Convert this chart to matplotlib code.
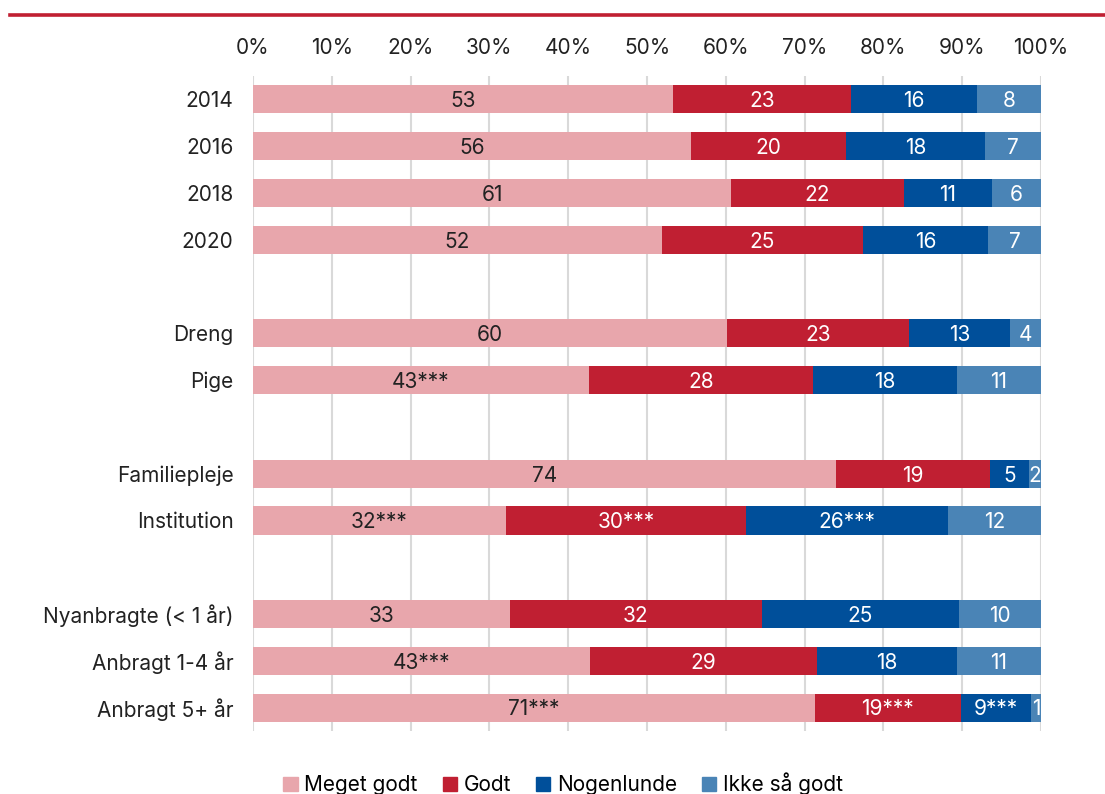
import numpy as np
import matplotlib.pyplot as plt
from matplotlib.lines import Line2D

plt.rcParams['font.family'] = ['Inter', 'DejaVu Sans']

categories = ['2014', '2016', '2018', '2020', '',
              'Dreng', 'Pige', '',
              'Familiepleje', 'Institution', '',
              'Nyanbragte (< 1 år)', 'Anbragt 1-4 år', 'Anbragt 5+ år']

series = ['Meget godt', 'Godt', 'Nogenlunde', 'Ikke så godt']
colors = ['#E8A6AC', '#C01F32', '#004F9A', '#4A84B6']
text_colors = ['#222222', 'white', 'white', 'white']

# shares in percent (None = empty spacer row)
meget_godt = [53.3, 55.6, 60.7, 51.9, None, 60.2, 42.6, None, 74.0, 32.1, None, 32.6, 42.8, 71.3]
godt = [22.6, 19.7, 21.9, 25.5, None, 23.0, 28.5, None, 19.5, 30.5, None, 32.0, 28.8, 18.5]
nogenlunde = [16.0, 17.6, 11.2, 15.9, None, 12.9, 18.2, None, 5.0, 25.6, None, 25.0, 17.7, 8.9]
ikke_saa_godt = [8.1, 7.1, 6.2, 6.7, None, 3.9, 10.7, None, 1.5, 11.8, None, 10.4, 10.7, 1.3]

lbl_meget = ['53', '56', '61', '52', '', '60', '43***', '', '74', '32***', '', '33', '43***', '71***']
lbl_godt = ['23', '20', '22', '25', '', '23', '28', '', '19', '30***', '', '32', '29', '19***']
lbl_nogen = ['16', '18', '11', '16', '', '13', '18', '', '5', '26***', '', '25', '18', '9***']
lbl_ikke = ['8', '7', '6', '7', '', '4', '11', '', '2', '12', '', '10', '11', '1']

values = [meget_godt, godt, nogenlunde, ikke_saa_godt]
labels = [lbl_meget, lbl_godt, lbl_nogen, lbl_ikke]

fs = 15

fig = plt.figure(figsize=(11.05, 7.94), dpi=100)
ax = fig.add_axes([253 / 1105, 1 - 731 / 794, (1041 - 253) / 1105, (731 - 76) / 794])

fig.add_artist(Line2D([10 / 1105, 1.0], [1 - 15 / 794] * 2, color='#C01F32', lw=2.6))

y = np.arange(len(categories))
left = np.zeros(len(categories))
for vals, lbls, col, tcol in zip(values, labels, colors, text_colors):
    w = np.array([v if v is not None else 0 for v in vals])
    ax.barh(y, w, left=left, height=0.6, color=col, zorder=3)
    for i, (wi, li) in enumerate(zip(w, lbls)):
        if li:
            ax.text(left[i] + wi / 2, y[i] + 0.04, li, ha='center', va='center',
                    color=tcol, fontsize=fs, zorder=4)
    left += w

ax.set_xlim(0, 100)
ax.set_ylim(len(categories) - 0.5, -0.5)
ax.set_xticks(np.arange(0, 101, 10))
ax.set_xticklabels([f'{t}%' for t in range(0, 101, 10)])
ax.xaxis.tick_top()
ax.set_yticks(y)
ax.set_yticklabels(categories)
ax.tick_params(axis='both', length=0, labelsize=fs, colors='#222222')
ax.tick_params(axis='x', pad=13)
ax.tick_params(axis='y', pad=14)
ax.grid(axis='x', color='#D9D9D9', lw=1.5, zorder=0)
for s in ax.spines.values():
    s.set_visible(False)

handles = [plt.Rectangle((0, 0), 1, 1, color=c) for c in colors]
fig.legend(handles, series, loc='center', bbox_to_anchor=(563 / 1105, 1 - 784 / 794),
           ncol=4, frameon=False, fontsize=fs, handlelength=0.7, handleheight=0.7,
           handletextpad=0.3, columnspacing=1.2)

fig.savefig('out.png', dpi=100)
